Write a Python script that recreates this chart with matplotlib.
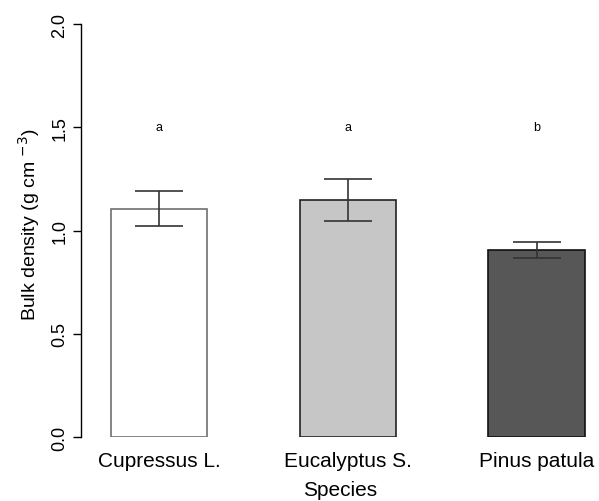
import numpy as np
import matplotlib
matplotlib.use('Agg')
import matplotlib.pyplot as plt

plt.rcParams['font.family'] = ['Liberation Sans', 'DejaVu Sans']

# data
species = ['Cupressus L.', 'Eucalyptus S.', 'Pinus patula']
density = [1.105, 1.147, 0.905]
err = [0.085, 0.10, 0.037]
letters = ['a', 'a', 'b']
colors = ['#ffffff', '#c6c6c6', '#575757']
edges = ['#707070', '#222222', '#111111']

W, H = 599, 502
fig = plt.figure(figsize=(W / 100, H / 100), dpi=100)
ax = fig.add_axes([81 / W, 1 - 438 / H, (W - 81) / W, (438 - 25) / H])

x = np.arange(len(species))
ax.bar(x, density, width=0.509, color=colors, edgecolor=edges, linewidth=1.2)
ax.errorbar(x, density, yerr=err, fmt='none', ecolor='#333333', elinewidth=1.2,
            capsize=17, capthick=1.2)
for xi, lab in zip(x, letters):
    ax.text(xi, 1.5, lab, ha='center', va='center', fontsize=9)

ax.set_xlim(-0.413, 2.331)
ax.set_ylim(0, 2)
ax.set_yticks([0, 0.5, 1.0, 1.5, 2.0])
ax.set_yticklabels(['0.0', '0.5', '1.0', '1.5', '2.0'], rotation=90, va='center', fontsize=13)
ax.set_xticks(x)
ax.set_xticklabels(species, fontsize=15)
ax.tick_params(axis='x', length=0, pad=10)
ax.tick_params(axis='y', length=6, width=1, pad=3)
for s in ['top', 'right', 'bottom']:
    ax.spines[s].set_visible(False)
ax.spines['left'].set_linewidth(1)

ax.set_ylabel('Bulk density (g cm $^{-3}$)', fontsize=14)
ax.yaxis.set_label_coords((42 - 81) / 518, (438 - 225) / 413)
ax.set_xlabel('Species', fontsize=15, labelpad=7)

fig.savefig('out.png', dpi=100)
